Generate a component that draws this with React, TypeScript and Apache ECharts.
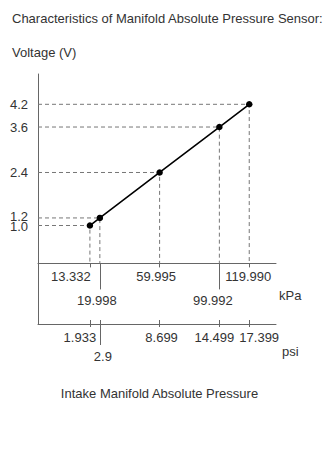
import React, { useEffect, useRef } from "react";
import * as echarts from "echarts";

// ---- data ----
const kpa = [13.332, 19.998, 59.995, 99.992, 119.99];
const volts = [1.0, 1.2, 2.4, 3.6, 4.2];
const voltTicksMain = [1.2, 2.4, 3.6, 4.2];
const voltTicksLow = [1.0];
const kpaRow1 = [13.332, 59.995, 119.99];
const kpaRow2 = [19.998, 99.992];
const psiRow1 = [1.933, 8.699, 14.499, 17.399];
const psiRow2 = [2.9];
const KPA_PER_PSI = 6.894757;

// ---- layout / style ----
const X_MIN = -21.4;
const X_MAX = 137.9;
const Y_MIN = -1.6;
const Y_MAX = 5;
const GRID_TOP = 74;
const GRID_BOTTOM = 125;
const CHART_H = 449;
const GRID_H = CHART_H - GRID_TOP - GRID_BOTTOM;
// kPa axis sits at voltage 0, i.e. above the grid's bottom edge
const KPA_OFFSET = -((0 - Y_MIN) / (Y_MAX - Y_MIN)) * GRID_H;
const FONT = "'Liberation Sans', Arial, sans-serif";
const TXT = "#333";
const AXIS = "#666";
const GUIDE = "#777";
// horizontal nudges of individual tick labels (px, negative = left)
const LABEL_SHIFT: Record<string, number> = {
  "13.332": -19,
  "59.995": -3.5,
  "119.990": -1,
  "19.998": -3,
  "99.992": -6.5,
  "1.933": -10,
  "8.699": 2,
  "14.499": -5,
  "17.399": 10,
  "2.9": 3,
};
// vertical nudges of voltage labels (px, negative = up)
const VLABEL_SHIFT: Record<string, number> = { "1.2": -1.5, "1.0": 1 };

function richFor(labels: string[]) {
  const rich: Record<string, any> = {};
  labels.forEach((s, i) => {
    const d = LABEL_SHIFT[s] || 0;
    rich["r" + i] = {
      fontSize: 13,
      fontFamily: FONT,
      color: TXT,
      padding: d < 0 ? [0, -2 * d, 0, 0] : [0, 0, 0, 2 * d],
    };
  });
  return rich;
}

function shiftedLabel(values: number[], digits: number, margin: number) {
  const labels = values.map((v) => v.toFixed(digits));
  return {
    show: true,
    customValues: values,
    margin,
    hideOverlap: false,
    fontSize: 13,
    fontFamily: FONT,
    color: TXT,
    formatter: (v: number) => {
      const s = v.toFixed(digits);
      const i = labels.indexOf(s);
      return i >= 0 ? `{r${i}|${s}}` : s;
    },
    rich: richFor(labels),
  };
}

function voltAxis(values: number[], showLine: boolean) {
  const labels = values.map((v) => v.toFixed(1));
  const rich: Record<string, any> = {};
  labels.forEach((s, i) => {
    const d = VLABEL_SHIFT[s] || 0;
    rich["v" + i] = {
      fontSize: 13,
      fontFamily: FONT,
      color: TXT,
      padding: d < 0 ? [0, 0, -2 * d, 0] : [2 * d, 0, 0, 0],
    };
  });
  return {
    type: "value",
    min: Y_MIN,
    max: Y_MAX,
    position: "left",
    offset: 0,
    splitLine: { show: false },
    axisLine: { show: showLine, onZero: false, lineStyle: { color: AXIS, width: 1 } },
    axisTick: { show: false },
    axisLabel: {
      customValues: values,
      formatter: (v: number) => {
        const s = v.toFixed(1);
        const i = labels.indexOf(s);
        return i >= 0 ? `{v${i}|${s}}` : s;
      },
      rich,
      margin: 10,
      hideOverlap: false,
      fontSize: 13,
      fontFamily: FONT,
      color: TXT,
    },
  };
}

export default function App() {
  const ref = useRef<HTMLDivElement>(null);
  useEffect(() => {
    if (!ref.current) return;
    const chart = echarts.init(ref.current, null, { renderer: "svg" });
    const baseX = {
      type: "value",
      min: X_MIN,
      max: X_MAX,
      position: "bottom",
      offset: KPA_OFFSET,
      splitLine: { show: false },
    };
    const baseP = {
      type: "value",
      min: X_MIN / KPA_PER_PSI,
      max: X_MAX / KPA_PER_PSI,
      position: "bottom",
      offset: 0,
      splitLine: { show: false },
    };
    const guides = kpa.map((x, i) => ({
      type: "line",
      xAxisIndex: 0,
      yAxisIndex: 0,
      z: 1,
      silent: true,
      symbol: "none",
      lineStyle: { color: GUIDE, width: 1, type: [4, 3] },
      data: [
        [X_MIN, volts[i]],
        [x, volts[i]],
        [x, 0],
      ],
    }));
    chart.setOption({
      animation: false,
      textStyle: { fontFamily: FONT },
      grid: { left: 38, right: 54, top: GRID_TOP, bottom: GRID_BOTTOM, containLabel: false },
      xAxis: [
        {
          ...baseX,
          axisLine: { show: true, onZero: false, lineStyle: { color: AXIS, width: 1 } },
          axisTick: { show: true, customValues: kpaRow1, length: 4, lineStyle: { color: AXIS } },
          axisLabel: shiftedLabel(kpaRow1, 3, 7),
        },
        {
          ...baseX,
          axisLine: { show: false, onZero: false },
          axisTick: { show: true, customValues: kpaRow2, length: 26, lineStyle: { color: AXIS } },
          axisLabel: shiftedLabel(kpaRow2, 3, 30.5),
        },
        {
          ...baseP,
          axisLine: { show: true, onZero: false, lineStyle: { color: AXIS, width: 1 } },
          axisTick: { show: true, customValues: psiRow1, length: 3, lineStyle: { color: AXIS } },
          axisLabel: shiftedLabel(psiRow1, 3, 7.3),
        },
        {
          ...baseP,
          axisLine: { show: false, onZero: false },
          axisTick: { show: true, customValues: psiRow2, length: 21, lineStyle: { color: AXIS } },
          axisLabel: shiftedLabel(psiRow2, 1, 26),
        },
        {
          ...baseP,
          axisLine: { show: false, onZero: false },
          axisTick: {
            show: true,
            inside: true,
            customValues: [...psiRow1, ...psiRow2],
            length: 4,
            lineStyle: { color: AXIS },
          },
          axisLabel: { show: false },
        },
      ],
      yAxis: [voltAxis(voltTicksMain, true), voltAxis(voltTicksLow, false)],
      series: [
        ...guides,
        {
          type: "line",
          xAxisIndex: 0,
          yAxisIndex: 0,
          z: 3,
          data: kpa.map((x, i) => [x, volts[i]]),
          symbol: "circle",
          symbolSize: 6.5,
          showSymbol: true,
          itemStyle: { color: "#000" },
          lineStyle: { color: "#000", width: 1.6 },
        },
      ],
      graphic: [
        {
          type: "text",
          x: 12,
          y: 18,
          style: {
            text: "Characteristics of Manifold Absolute Pressure Sensor:",
            fontSize: 13,
            fontFamily: FONT,
            fill: TXT,
            align: "left",
            verticalAlign: "middle",
          },
        },
        {
          type: "text",
          x: 12,
          y: 52,
          style: {
            text: "Voltage (V)",
            fontSize: 13,
            fontFamily: FONT,
            fill: TXT,
            align: "left",
            verticalAlign: "middle",
          },
        },
        {
          type: "text",
          x: 279,
          y: 295,
          style: { text: "kPa", fontSize: 13, fontFamily: FONT, fill: TXT, align: "left", verticalAlign: "middle" },
        },
        {
          type: "text",
          x: 282,
          y: 351,
          style: { text: "psi", fontSize: 13, fontFamily: FONT, fill: TXT, align: "left", verticalAlign: "middle" },
        },
        {
          type: "text",
          x: 159.5,
          y: 393.5,
          style: {
            text: "Intake Manifold Absolute Pressure",
            fontSize: 13,
            fontFamily: FONT,
            fill: TXT,
            align: "center",
            verticalAlign: "middle",
          },
        },
      ],
    });
    return () => chart.dispose();
  }, []);
  return (
    <div
      ref={ref}
      style={{ position: "absolute", left: 0, top: 0, width: 330, height: 449 }}
    />
  );
}
